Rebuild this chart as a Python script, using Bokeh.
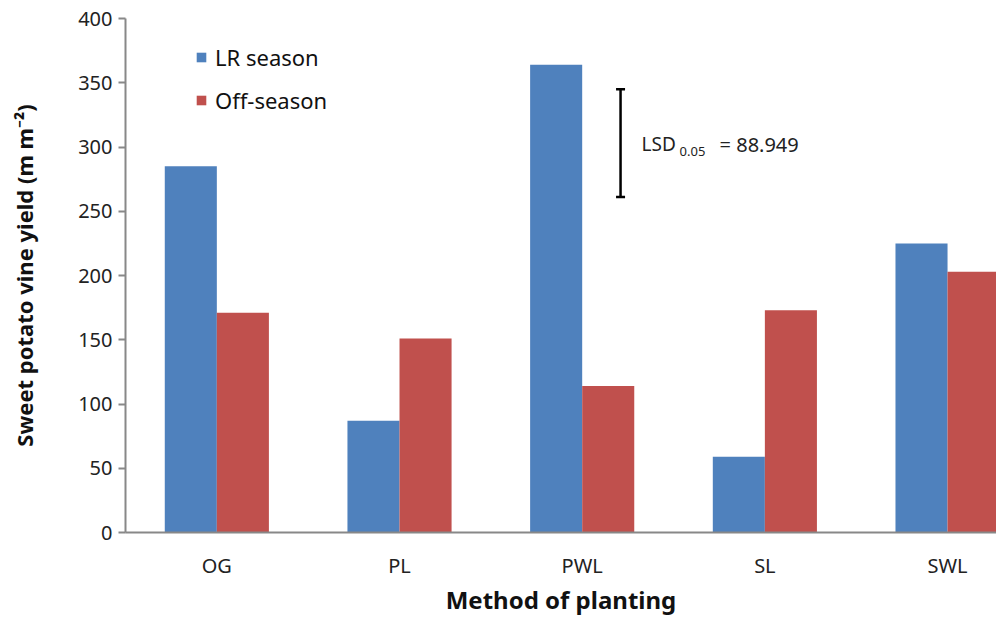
from bokeh.plotting import figure
from bokeh.models import Range1d, FixedTicker, Legend, LegendItem, ColumnDataSource
from bokeh.core.properties import value
from bokeh.embed import file_html
from bokeh.resources import INLINE

categories = ["OG", "PL", "PWL", "SL", "SWL"]
lr_season = [285, 87, 364, 59, 225]
off_season = [171, 151, 114, 173, 203]
y_ticks = [0, 50, 100, 150, 200, 250, 300, 350, 400]
lsd_low, lsd_high = 261, 345
lsd_pos = 2.71
lsd_label_y = 302

FONT = "Noto Sans"
BLUE = "#4F81BD"
RED = "#C0504D"
bw = 0.285

xc = [i + 0.5 for i in range(len(categories))]
src = ColumnDataSource(dict(
    x_lr=[c - bw / 2 for c in xc],
    x_off=[c + bw / 2 for c in xc],
    lr=lr_season, off=off_season))

p = figure(width=996, height=619, output_backend="svg", toolbar_location=None,
           x_range=Range1d(0, 4.768), y_range=Range1d(0, 400),
           min_border_left=125, min_border_right=0, min_border_top=18,
           min_border_bottom=87)
p.outline_line_color = None
p.grid.visible = False
p.background_fill_color = "white"

r_lr = p.vbar(x="x_lr", top="lr", width=bw, source=src, fill_color=BLUE, line_color=None)
r_off = p.vbar(x="x_off", top="off", width=bw, source=src, fill_color=RED, line_color=None)

# LSD bar
p.segment(x0=[lsd_pos], y0=[lsd_low], x1=[lsd_pos], y1=[lsd_high], line_color="black", line_width=2.5)
p.scatter(x=[lsd_pos, lsd_pos], y=[lsd_low, lsd_high], marker="dash", size=9,
          line_color="black", line_width=2.5)
p.text(x=[lsd_pos], y=[lsd_label_y], text=["LSD"], x_offset=21, text_baseline="middle",
       text_font=value(FONT), text_font_size="19px", text_color="#222222")
p.text(x=[lsd_pos], y=[lsd_label_y], text=["0.05"], x_offset=59, y_offset=7, text_baseline="middle",
       text_font=value(FONT), text_font_size="13px", text_color="#222222")
p.text(x=[lsd_pos], y=[lsd_label_y], text=["= 88.949"], x_offset=99, text_baseline="middle",
       text_font=value(FONT), text_font_size="20px", text_color="#222222")

# axes
p.xaxis.ticker = FixedTicker(ticks=xc)
p.xaxis.major_label_overrides = {c: n for c, n in zip(xc, categories)}
p.xaxis.major_tick_line_color = None
p.xaxis.minor_tick_line_color = None
p.xaxis.axis_line_color = "#888888"
p.xaxis.axis_line_width = 2
p.xaxis.major_label_standoff = 13
p.xaxis.major_label_text_font = FONT
p.xaxis.major_label_text_font_size = "20px"
p.xaxis.major_label_text_color = "#222222"
p.xaxis.axis_label = "Method of planting"
p.xaxis.axis_label_text_font = FONT
p.xaxis.axis_label_text_font_size = "24px"
p.xaxis.axis_label_text_font_style = "bold"
p.xaxis.axis_label_text_color = "#111111"
p.xaxis.axis_label_standoff = 1

p.yaxis.ticker = FixedTicker(ticks=y_ticks)
p.yaxis.minor_tick_line_color = None
p.yaxis.axis_line_color = "#888888"
p.yaxis.axis_line_width = 2
p.yaxis.major_tick_line_color = "#888888"
p.yaxis.major_tick_line_width = 2
p.yaxis.major_tick_in = 0
p.yaxis.major_tick_out = 7
p.yaxis.major_label_standoff = 6
p.yaxis.major_label_text_font = FONT
p.yaxis.major_label_text_font_size = "20px"
p.yaxis.major_label_text_color = "#222222"
p.yaxis.axis_label = "Sweet potato vine yield (m m\u207b\u00b2)"
p.yaxis.axis_label_text_font = FONT
p.yaxis.axis_label_text_font_size = "22px"
p.yaxis.axis_label_text_font_style = "bold"
p.yaxis.axis_label_text_color = "#111111"
p.yaxis.axis_label_standoff = 36

legend = Legend(items=[LegendItem(label="LR season", renderers=[r_lr]),
                       LegendItem(label="Off-season", renderers=[r_off])],
                location=(60, 407), orientation="vertical")
legend.glyph_width = 12
legend.glyph_height = 12
legend.label_text_font = FONT
legend.label_text_font_size = "22px"
legend.label_text_color = "#111111"
legend.spacing = 13
legend.border_line_alpha = 0
legend.background_fill_alpha = 0
legend.label_standoff = 8
p.add_layout(legend, "center")

open("out.html", "w").write(file_html(p, INLINE))
